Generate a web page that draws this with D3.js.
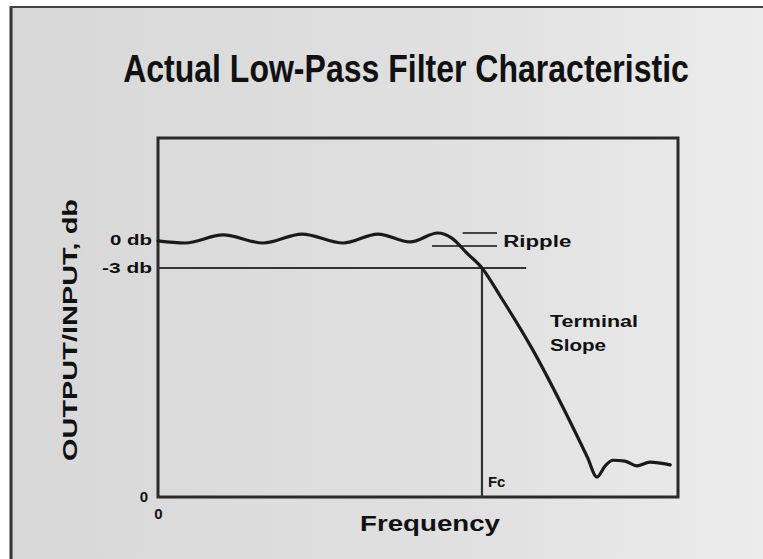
<!DOCTYPE html>
<html><head><meta charset="utf-8">
<script src="https://cdn.jsdelivr.net/npm/d3@7"></script>
<style>html,body{margin:0;padding:0;background:#fff;}svg{display:block;}</style>
</head><body>
<svg id="c" width="763" height="559"></svg>
<script>
// ---- data ----
const title = "Actual Low-Pass Filter Characteristic";
const freq = [0, 5.2, 12.5, 20.2, 27.7, 35.6, 42.3, 48.5, 53.8, 56.5, 59.4, 62.3, 65.8, 72.1, 78.3, 82.6, 84.4, 86.0, 87.5, 89.8, 92.1, 94.6, 98.5];
const gainDb = [-0.1, -0.32, 0.54, -0.32, 0.64, -0.32, 0.64, -0.21, 0.75, 0.2, -1.4, -3.0, -6.0, -11.8, -18.4, -23.3, -25.4, -24.2, -23.6, -23.7, -24.2, -23.8, -24.1];
const yTickValues = [0, -3, -27.54];
const yTickLabels = ["0 db", "-3 db", "0"];
const xTickValues = [0];
const xTickLabels = ["0"];
const cutoffFreq = 62.3;
const cutoffDb = -3;
const rippleMax = 0.75;
const rippleMin = -0.65;

// ---- layout ----
const svg = d3.select("#c");
const L = 158, R = 678, T = 138, B = 497;
const x = d3.scaleLinear().domain([0, 100]).range([L, R]);
const y = d3.scaleLinear().domain([-27.54, 10.93]).range([B, T]);

const defs = svg.append("defs");
const g = defs.append("linearGradient").attr("id", "bg").attr("x1", 0).attr("x2", 1).attr("y1", 0).attr("y2", 0);
g.append("stop").attr("offset", "0%").attr("stop-color", "#d8d8d8");
g.append("stop").attr("offset", "60%").attr("stop-color", "#e0e0e0");
g.append("stop").attr("offset", "100%").attr("stop-color", "#ececec");

svg.append("rect").attr("x", 11).attr("y", 7).attr("width", 752).attr("height", 552).attr("fill", "url(#bg)");
// outer frame
svg.append("line").attr("x1", 11).attr("x2", 11).attr("y1", 6).attr("y2", 559).attr("stroke", "#333").attr("stroke-width", 3);
svg.append("line").attr("x1", 10).attr("x2", 763).attr("y1", 7).attr("y2", 7).attr("stroke", "#444").attr("stroke-width", 2);

// title (condensed via horizontal scale)
const tg = svg.append("g");
const tt = tg.append("text").text(title)
  .attr("x", 0).attr("y", 0).attr("text-anchor", "middle")
  .attr("font-family", "'Liberation Sans',Arial,sans-serif")
  .attr("font-weight", "bold").attr("font-size", 38).attr("fill", "#111");
const tw = tt.node().getComputedTextLength();
tg.attr("transform", `translate(406,82) scale(${566 / tw},1)`);

// plot box
svg.append("rect").attr("x", L).attr("y", T).attr("width", R - L).attr("height", B - T)
  .attr("fill", "none").attr("stroke", "#2a2a2a").attr("stroke-width", 3);

// y axis tick labels
const yAxis = d3.axisLeft(y).tickValues(yTickValues).tickSize(0).tickPadding(6)
  .tickFormat((d, i) => yTickLabels[i]);
const ya = svg.append("g").attr("transform", `translate(${L},0)`).call(yAxis);
ya.select(".domain").remove();
ya.selectAll("text").attr("font-family", "'Liberation Sans',Arial,sans-serif")
  .attr("font-weight", "bold").attr("font-size", 15).attr("fill", "#111");
ya.selectAll("text").filter((d, i) => i < 2).attr("textLength", (d, i) => i === 0 ? 42 : 50).attr("lengthAdjust", "spacingAndGlyphs");
ya.selectAll("text").filter((d, i) => i === 2).attr("dx", -4);

// x axis tick labels
const xAxis = d3.axisBottom(x).tickValues(xTickValues).tickSize(0).tickPadding(11)
  .tickFormat((d, i) => xTickLabels[i]);
const xa = svg.append("g").attr("transform", `translate(0,${B})`).call(xAxis);
xa.select(".domain").remove();
xa.selectAll("text").attr("font-family", "'Liberation Sans',Arial,sans-serif")
  .attr("font-weight", "bold").attr("font-size", 15).attr("fill", "#111");

// axis titles
svg.append("text").text("Frequency")
  .attr("x", 430).attr("y", 531).attr("text-anchor", "middle")
  .attr("font-family", "'Liberation Sans',Arial,sans-serif").attr("font-weight", "bold")
  .attr("font-size", 22).attr("fill", "#111")
  .attr("textLength", 140).attr("lengthAdjust", "spacingAndGlyphs");
svg.append("text").text("OUTPUT/INPUT, db")
  .attr("transform", "translate(77,330) rotate(-90)").attr("text-anchor", "middle")
  .attr("font-family", "'Liberation Sans',Arial,sans-serif").attr("font-weight", "bold")
  .attr("font-size", 20).attr("fill", "#111")
  .attr("textLength", 262).attr("lengthAdjust", "spacingAndGlyphs");

// -3 db reference line
svg.append("line").attr("x1", L).attr("x2", x(70.8)).attr("y1", y(cutoffDb)).attr("y2", y(cutoffDb))
  .attr("stroke", "#333").attr("stroke-width", 2.2);
// Fc vertical line
svg.append("line").attr("x1", x(cutoffFreq)).attr("x2", x(cutoffFreq)).attr("y1", y(cutoffDb)).attr("y2", B)
  .attr("stroke", "#333").attr("stroke-width", 2.2);
svg.append("text").text("Fc").attr("x", x(cutoffFreq) + 6).attr("y", 487)
  .attr("font-family", "'Liberation Sans',Arial,sans-serif").attr("font-weight", "bold")
  .attr("font-size", 15).attr("fill", "#111");

// ripple markers
svg.append("line").attr("x1", x(58.6)).attr("x2", x(65.2)).attr("y1", y(rippleMax)).attr("y2", y(rippleMax))
  .attr("stroke", "#444").attr("stroke-width", 2);
svg.append("line").attr("x1", x(52.7)).attr("x2", x(65.2)).attr("y1", y(rippleMin)).attr("y2", y(rippleMin))
  .attr("stroke", "#444").attr("stroke-width", 2);
svg.append("text").text("Ripple").attr("x", x(66.4)).attr("y", 247)
  .attr("font-family", "'Liberation Sans',Arial,sans-serif").attr("font-weight", "bold")
  .attr("font-size", 16).attr("fill", "#111")
  .attr("textLength", 68).attr("lengthAdjust", "spacingAndGlyphs");

// terminal slope label
const ts = svg.append("text").attr("font-family", "'Liberation Sans',Arial,sans-serif")
  .attr("font-weight", "bold").attr("font-size", 16).attr("fill", "#111");
ts.append("tspan").text("Terminal").attr("x", 550).attr("y", 327).attr("textLength", 88).attr("lengthAdjust", "spacingAndGlyphs");
ts.append("tspan").text("Slope").attr("x", 550).attr("y", 351).attr("textLength", 56).attr("lengthAdjust", "spacingAndGlyphs");

// response curve
const pts = freq.map((f, i) => [f, gainDb[i]]);
const line = d3.line().x(d => x(d[0])).y(d => y(d[1])).curve(d3.curveMonotoneX);
svg.append("path").datum(pts).attr("d", line)
  .attr("fill", "none").attr("stroke", "#1a1a1a").attr("stroke-width", 3.2)
  .attr("stroke-linejoin", "round").attr("stroke-linecap", "round");
</script>
</body></html>
